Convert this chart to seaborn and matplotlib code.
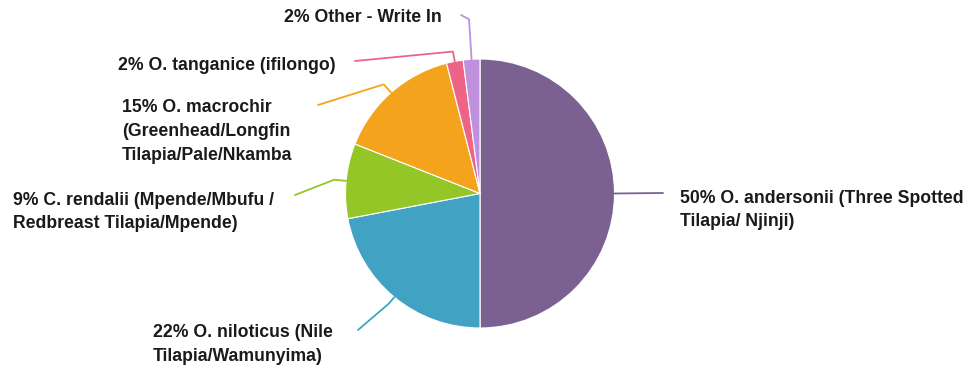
import numpy as np
import matplotlib
matplotlib.use("Agg")
import matplotlib.pyplot as plt
import seaborn as sns

# data
labels = [
    "50% O. andersonii (Three Spotted\nTilapia/ Njinji)",
    "22% O. niloticus (Nile\nTilapia/Wamunyima)",
    "9% C. rendalii (Mpende/Mbufu /\nRedbreast Tilapia/Mpende)",
    "15% O. macrochir\n(Greenhead/Longfin\nTilapia/Pale/Nkamba",
    "2% O. tanganice (ifilongo)",
    "2% Other - Write In",
]
shares = [50, 22, 9, 15, 2, 2]
colors = ["#7b6191", "#41a2c3", "#95c627", "#f4a41c", "#ee6487", "#bf91dc"]

# label layout in pixel coords (top-left origin): text anchor, alignment, leader end
text_pos = [(680, 210), (153, 344.5), (13, 212), (122, 131.5), (336, 65), (442, 18)]
text_ha = ["left", "left", "left", "left", "right", "right"]
line_end = [(663, 193), (358, 330), (295, 195), (318, 105), (355, 61), (461, 15)]
elbow = [0, 8, 12, 11, 10, 40]

sns.set_theme(style="white")
plt.rcParams['font.family'] = ['Liberation Sans', 'DejaVu Sans']

W, H = 974, 367
fig = plt.figure(figsize=(W / 100, H / 100), dpi=100)
ax = fig.add_axes([0, 0, 1, 1])

cx, cy, r = 480, H - 193.5, 134.5
wedges, _ = ax.pie(shares, colors=colors, startangle=90, counterclock=False,
                   center=(cx, cy), radius=r,
                   wedgeprops=dict(edgecolor="white", linewidth=0.8))
ax.set_xlim(0, W)
ax.set_ylim(0, H)
ax.set_aspect("equal")
ax.axis("off")

for w, lab, tp, ha, le, el, col in zip(wedges, labels, text_pos, text_ha, line_end, elbow, colors):
    ang = np.deg2rad((w.theta1 + w.theta2) / 2)
    x0, y0 = cx + r * np.cos(ang), cy + r * np.sin(ang)
    x1, y1 = cx + (r + el) * np.cos(ang), cy + (r + el) * np.sin(ang)
    ax.plot([x0, x1, le[0]], [y0, y1, H - le[1]], color=col, lw=1.3,
            solid_joinstyle="round")
    ax.text(tp[0], H - tp[1], lab, ha=ha, va="center", fontsize=12.7,
            fontweight="bold", color="#1a1a1a", linespacing=1.5,
            multialignment="left")

fig.savefig("out.png", dpi=100)
